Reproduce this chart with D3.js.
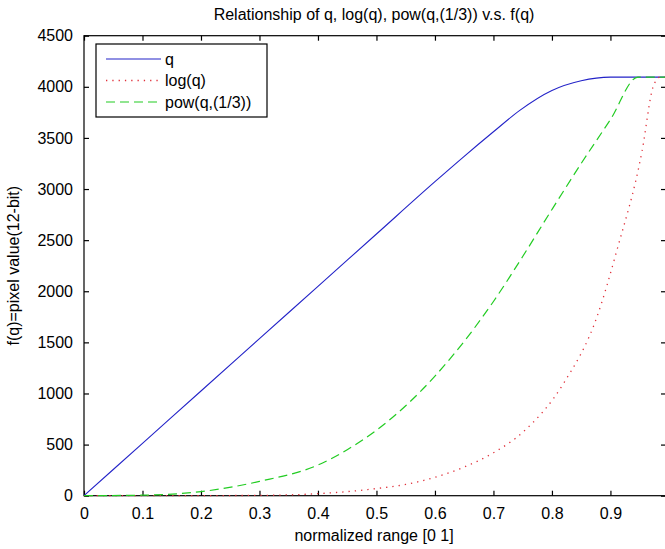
<!DOCTYPE html>
<html>
<head>
<meta charset="utf-8">
<script src="https://cdn.jsdelivr.net/npm/d3@7"></script>
<style>
  html, body { margin: 0; padding: 0; background: #fff; }
  svg { display: block; }
  text { font-family: "Liberation Sans", Arial, Helvetica, sans-serif; fill: #000; }
</style>
</head>
<body>
<svg id="chart" width="665" height="549"></svg>
<script>
// ---- data ----
const titleText = "Relationship of q, log(q), pow(q,(1/3)) v.s. f(q)";
const xLabel = "normalized range [0 1]";
const yLabel = "f(q)=pixel value(12-bit)";
const xTicks = [0, 0.1, 0.2, 0.3, 0.4, 0.5, 0.6, 0.7, 0.8, 0.9];
const xTickLabels = ["0", "0.1", "0.2", "0.3", "0.4", "0.5", "0.6", "0.7", "0.8", "0.9"];
const yTicks = [0, 500, 1000, 1500, 2000, 2500, 3000, 3500, 4000, 4500];
const seriesNames = ["q", "log(q)", "pow(q,(1/3))"];

const qX = [0, 0.1, 0.2, 0.3, 0.4, 0.5, 0.6, 0.65, 0.7, 0.745, 0.8, 0.85, 0.9, 0.95, 0.995];
const qY = [0, 512, 1024, 1536, 2048, 2560, 3072, 3320, 3560, 3770, 3965, 4060, 4095, 4095, 4095];

const logX = [0, 0.2, 0.3, 0.4, 0.45, 0.5, 0.55, 0.6, 0.65, 0.7, 0.75, 0.82, 0.877, 0.911, 0.954, 0.973, 0.985, 0.995];
const logY = [0, 1, 3, 20, 40, 70, 110, 180, 280, 420, 620, 1100, 1750, 2400, 3370, 4000, 4095, 4095];

const powX = [0, 0.1, 0.2, 0.3, 0.4, 0.45, 0.5, 0.55, 0.6, 0.65, 0.7, 0.75, 0.8, 0.85, 0.9, 0.947, 0.97, 0.995];
const powY = [0, 5, 40, 140, 300, 450, 640, 880, 1170, 1510, 1900, 2340, 2800, 3250, 3680, 4095, 4095, 4095];

// ---- layout ----
const svg = d3.select("#chart");
const L = 84, R = 666, T = 35.7, B = 495.7;

const x = d3.scaleLinear().domain([0, 0.995]).range([L, R]);
const y = d3.scaleLinear().domain([0, 4500]).range([B, T]);

const tickLen = 5;

// box
svg.append("rect").attr("x", L).attr("y", T).attr("width", R - L).attr("height", B - T)
  .attr("fill", "none").attr("stroke", "#000").attr("stroke-width", 1.2);

// axes (inward ticks on all four sides)
const fontSize = 16;
const xAxisB = d3.axisBottom(x).tickValues(xTicks).tickFormat((d, i) => xTickLabels[i])
  .tickSizeInner(-tickLen).tickSizeOuter(0).tickPadding(12);
const gxb = svg.append("g").attr("transform", `translate(0,${B})`).call(xAxisB);
const xAxisT = d3.axisTop(x).tickValues(xTicks).tickFormat("").tickSizeInner(-tickLen).tickSizeOuter(0);
const gxt = svg.append("g").attr("transform", `translate(0,${T})`).call(xAxisT);
const yAxisL = d3.axisLeft(y).tickValues(yTicks).tickFormat(d3.format("d"))
  .tickSizeInner(-tickLen).tickSizeOuter(0).tickPadding(11);
const gyl = svg.append("g").attr("transform", `translate(${L},0)`).call(yAxisL);
const yAxisR = d3.axisRight(y).tickValues(yTicks).tickFormat("").tickSizeInner(-tickLen).tickSizeOuter(0);
const gyr = svg.append("g").attr("transform", `translate(${R},0)`).call(yAxisR);

[gxb, gxt, gyl, gyr].forEach(g => {
  g.select(".domain").remove();
  g.selectAll("line").attr("stroke", "#000").attr("stroke-width", 1.2);
  g.selectAll("text").attr("font-size", fontSize)
    .attr("font-family", "'Liberation Sans', Arial, sans-serif").attr("fill", "#000");
});

// lines
const series = [
  { xs: qX, ys: qY, color: "#2323c8", dash: null, width: 1.1 },
  { xs: logX, ys: logY, color: "#e0303a", dash: "1.3,5", width: 1.3 },
  { xs: powX, ys: powY, color: "#22cc22", dash: "9,5", width: 1.2 }
];
const line = d3.line().x(d => x(d[0])).y(d => y(d[1])).curve(d3.curveMonotoneX);
series.forEach(s => {
  const pts = s.xs.map((v, i) => [v, s.ys[i]]);
  const p = svg.append("path").datum(pts).attr("d", line)
    .attr("fill", "none").attr("stroke", s.color).attr("stroke-width", s.width);
  if (s.dash) p.attr("stroke-dasharray", s.dash);
});

// title & labels
svg.append("text").attr("x", (L + R) / 2 - 1).attr("y", 20).attr("text-anchor", "middle")
  .attr("font-size", fontSize).text(titleText);
svg.append("text").attr("x", (L + R) / 2 - 1).attr("y", 541).attr("text-anchor", "middle")
  .attr("font-size", fontSize).text(xLabel);
svg.append("text").attr("transform", `translate(19,${(T + B) / 2}) rotate(-90)`)
  .attr("text-anchor", "middle").attr("font-size", fontSize).text(yLabel);

// legend
const lg = svg.append("g");
const lgX = 96, lgY = 44, lgW = 171, lgH = 73;
lg.append("rect").attr("x", lgX).attr("y", lgY).attr("width", lgW).attr("height", lgH)
  .attr("fill", "#fff").attr("stroke", "#000").attr("stroke-width", 1.2);
series.forEach((s, i) => {
  const cy = lgY + 15 + i * 21.5;
  const l = lg.append("line").attr("x1", lgX + 10).attr("x2", lgX + 65).attr("y1", cy).attr("y2", cy)
    .attr("stroke", s.color).attr("stroke-width", s.width);
  if (s.dash) l.attr("stroke-dasharray", s.dash);
  lg.append("text").attr("x", lgX + 69).attr("y", cy).attr("dy", "0.35em")
    .attr("font-size", fontSize).text(seriesNames[i]);
});
</script>
</body>
</html>
